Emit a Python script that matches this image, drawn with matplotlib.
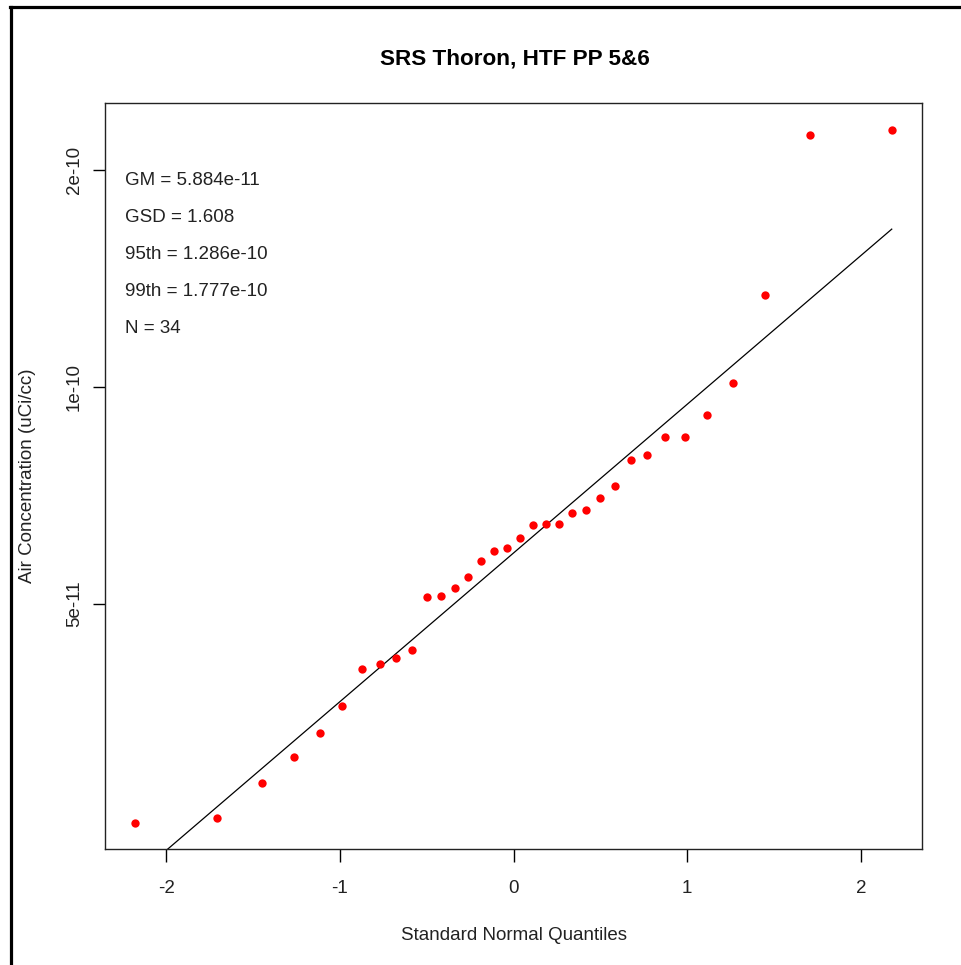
import numpy as np
import matplotlib
matplotlib.use('Agg')
import matplotlib.pyplot as plt
from matplotlib.lines import Line2D
from matplotlib.ticker import FixedLocator, FixedFormatter, NullLocator

# Standard normal quantiles for N = 34 (ppoints)
quantiles = [-2.178, -1.705, -1.450, -1.265, -1.115, -0.987, -0.874, -0.770,
             -0.674, -0.584, -0.499, -0.417, -0.338, -0.261, -0.185, -0.111,
             -0.037, 0.037, 0.111, 0.185, 0.261, 0.338, 0.417, 0.499,
             0.584, 0.674, 0.770, 0.874, 0.987, 1.115, 1.265, 1.450,
             1.705, 2.178]

# Sorted air concentrations (uCi/cc)
concentrations = [2.48e-11, 2.52e-11, 2.82e-11, 3.07e-11, 3.31e-11, 3.61e-11,
                  4.06e-11, 4.13e-11, 4.21e-11, 4.32e-11, 5.11e-11, 5.13e-11,
                  5.26e-11, 5.45e-11, 5.74e-11, 5.92e-11, 5.98e-11, 6.17e-11,
                  6.44e-11, 6.46e-11, 6.46e-11, 6.69e-11, 6.75e-11, 7.02e-11,
                  7.29e-11, 7.92e-11, 8.05e-11, 8.52e-11, 8.52e-11, 9.14e-11,
                  1.013e-10, 1.341e-10, 2.237e-10, 2.273e-10]

# Summary statistics shown on the plot
GM = 5.884e-11
GSD = 1.608
stat_lines = ['GM = 5.884e-11', 'GSD = 1.608', '95th = 1.286e-10',
              '99th = 1.777e-10', 'N = 34']

x_ticks = [-2, -1, 0, 1, 2]
y_ticks = [5e-11, 1e-10, 2e-10]
y_tick_labels = ['5e-11', '1e-10', '2e-10']
y_limits = (2.286e-11, 2.477e-10)

plt.rcParams['font.family'] = ['Liberation Sans', 'DejaVu Sans']
plt.rcParams['axes.unicode_minus'] = False
BASE = 13.5

fig = plt.figure(figsize=(9.61, 9.65), dpi=100)
ax = fig.add_axes([105 / 961, 1 - 849 / 965, 817 / 961, 746 / 965])

ax.scatter(quantiles, concentrations, s=36, color='red', linewidths=0, zorder=3)

# Lognormal fit line from GM and GSD
z = np.array([min(quantiles), max(quantiles)])
ax.plot(z, GM * GSD ** z, color='black', linewidth=0.9)

ax.set_yscale('log')
xr = max(quantiles) - min(quantiles)
ax.set_xlim(min(quantiles) - 0.04 * xr, max(quantiles) + 0.04 * xr)
ax.set_ylim(*y_limits)

ax.xaxis.set_major_locator(FixedLocator(x_ticks))
ax.yaxis.set_major_locator(FixedLocator(y_ticks))
ax.yaxis.set_major_formatter(FixedFormatter(y_tick_labels))
ax.yaxis.set_minor_locator(NullLocator())

ax.tick_params(axis='both', direction='out', length=9, width=1, color='black',
               labelsize=BASE, labelcolor='#222222')
ax.tick_params(axis='x', pad=13)
ax.tick_params(axis='y', pad=7)
for lab in ax.get_yticklabels():
    lab.set_rotation(90)
    lab.set_va('center')

for sp in ax.spines.values():
    sp.set_linewidth(1.0)
    sp.set_color('#222222')

for i, txt in enumerate(stat_lines):
    ax.text(0.0245, 0.896 - 0.0495 * i, txt, transform=ax.transAxes,
            ha='left', va='center', fontsize=BASE, color='#222222')

fig.text(515 / 961, 1 - 59 / 965, 'SRS Thoron, HTF PP 5&6', ha='center',
         va='center', fontsize=BASE * 1.2, fontweight='bold', color='black')
fig.text(514 / 961, 1 - 935 / 965, 'Standard Normal Quantiles', ha='center',
         va='center', fontsize=BASE, color='#222222')
fig.text(28 / 961, 1 - 476 / 965, 'Air Concentration (uCi/cc)', ha='center',
         va='center', rotation=90, fontsize=BASE, color='#222222')

# outer frame (top and left edges)
fig.add_artist(Line2D([10 / 961, 1], [1 - 7 / 965, 1 - 7 / 965],
                      transform=fig.transFigure, color='black', linewidth=2.3))
fig.add_artist(Line2D([11 / 961, 11 / 961], [0, 1 - 7 / 965],
                      transform=fig.transFigure, color='black', linewidth=2.3))

fig.savefig('out.png', dpi=100)
